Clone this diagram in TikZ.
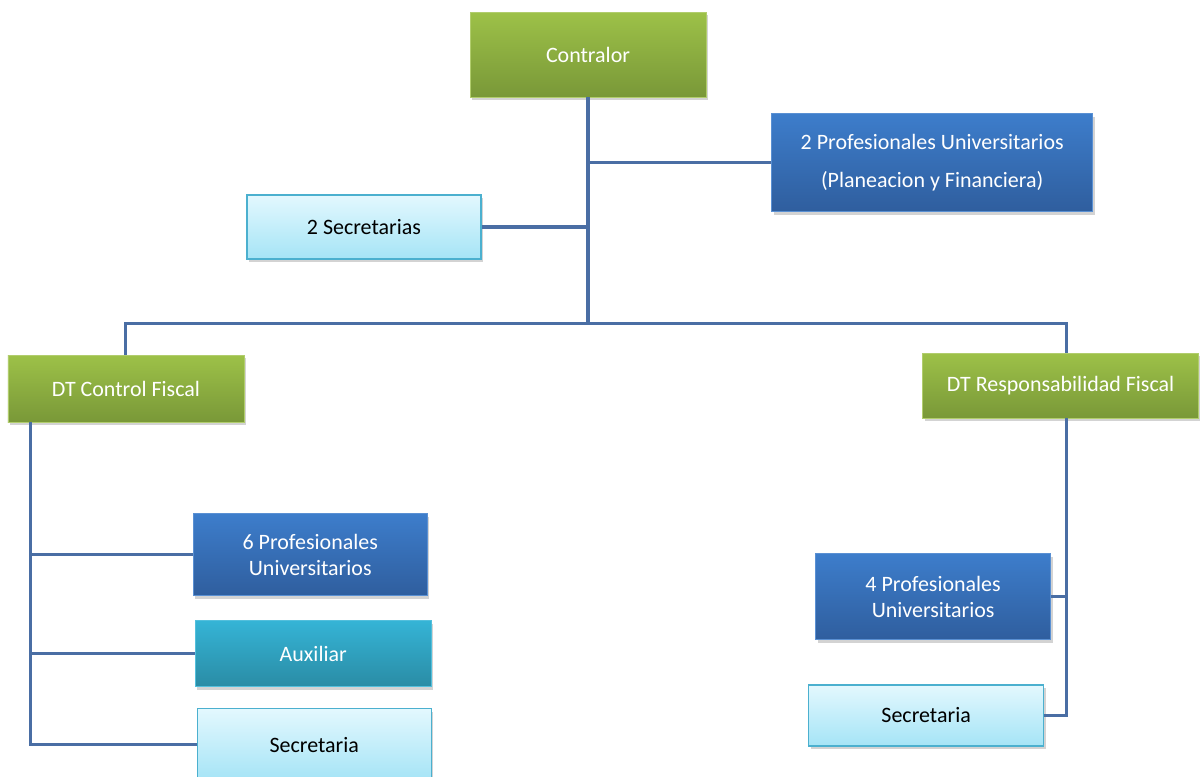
\documentclass[tikz,border=0pt]{standalone}
\usepackage{fontspec}
\setmainfont{Carlito}
\usepackage{tikz}
\usetikzlibrary{positioning,shadows}

\definecolor{grntop}{HTML}{9DC148}
\definecolor{grnbot}{HTML}{799838}
\definecolor{blutop}{HTML}{3D7DCB}
\definecolor{blubot}{HTML}{2F5E9E}
\definecolor{teatop}{HTML}{35B4D6}
\definecolor{teabot}{HTML}{2A8CA5}
\definecolor{lgttop}{HTML}{E3F8FE}
\definecolor{lgtbot}{HTML}{A5E4F6}
\definecolor{lgtline}{HTML}{4BB0CF}
\definecolor{linkcol}{HTML}{4A6EA4}

\begin{document}
\begin{tikzpicture}
 	\tikzstyle{unit}=[rectangle, align=center, inner sep=1mm, font=\fontsize{12.5}{15}\selectfont, drop shadow={opacity=0.35, shadow xshift=0.4mm, shadow yshift=-0.6mm}]
 	\tikzstyle{head}=[unit, top color=grntop, bottom color=grnbot, draw=grntop!80!white, text=white]
 	\tikzstyle{prof}=[unit, top color=blutop, bottom color=blubot, draw=blutop!85!white, text=white]
 	\tikzstyle{aux}=[unit, top color=teatop, bottom color=teabot, draw=teatop!85!white, text=white]
 	\tikzstyle{secr}=[unit, top color=lgttop, bottom color=lgtbot, draw=lgtline, thick, text=black]
 	\tikzstyle{connect}=[line width=1.8pt, draw=linkcol]
 	\useasboundingbox (0,0) rectangle (24,-15.52);
 	\node[head, minimum width=4.72cm, minimum height=1.70cm] (contr) at (11.76,-1.09) {Contralor};
 	\node[prof, minimum width=6.42cm, minimum height=1.96cm] (prof2) [below right=0.32cm and 1.30cm of contr] {2 Profesionales Universitarios\\[7pt](Planeacion y Financiera)};
 	\node[secr, minimum width=4.68cm, minimum height=1.28cm] (secs) [below left=1.94cm and -0.24cm of contr] {2 Secretarias};
 	\node[head, minimum width=4.72cm, minimum height=1.34cm] (dtcf) [below left=1.90cm and 0.04cm of secs] {DT Control Fiscal};
 	\node[head, minimum width=5.52cm, minimum height=1.30cm] (dtrf) [right=13.56cm of dtcf, yshift=0.6mm] {DT Responsabilidad Fiscal};
 	\node[prof, minimum width=4.68cm, minimum height=1.64cm] (prof6) [below=1.82cm of dtcf.south east, anchor=north, xshift=1.32cm] {6 Profesionales\\Universitarios};
 	\node[aux, minimum width=4.72cm, minimum height=1.32cm] (auxl) [below=0.48cm of prof6, xshift=0.06cm] {Auxiliar};
 	\node[secr, minimum width=4.68cm, minimum height=1.44cm] (secl) [below=0.42cm of auxl, xshift=0.02cm] {Secretaria};
 	\node[prof, minimum width=4.70cm, minimum height=1.72cm] (prof4) [below=2.70cm of dtrf, xshift=-2.55cm] {4 Profesionales\\Universitarios};
 	\node[secr, minimum width=4.70cm, minimum height=1.22cm] (secrr) [below=0.88cm of prof4, xshift=-0.14cm] {Secretaria};
 	\coordinate (bus) at ([yshift=-4.52cm]contr.south);
 	\coordinate (lspine) at ([xshift=0.46cm]dtcf.south west);
 	\coordinate (rtop) at ([xshift=0.12cm]dtrf.north);
 	\coordinate (rspine) at ([xshift=0.12cm]dtrf.south);
 	\draw[connect] (contr.south) -- (bus);
 	\draw[connect] (prof2.west) -- (prof2.west -| contr.south);
 	\draw[connect] (secs.east) -- (secs.east -| contr.south);
 	\draw[connect] (dtcf.north) |- (bus) -| (rtop);
 	\draw[connect] (lspine) |- (secl.west);
 	\draw[connect] (prof6.west) -- (prof6.west -| lspine);
 	\draw[connect] (auxl.west) -- (auxl.west -| lspine);
 	\draw[connect] (rspine) |- (secrr.east);
 	\draw[connect] (prof4.east) -- (prof4.east -| rspine);
\end{tikzpicture}
\end{document}
